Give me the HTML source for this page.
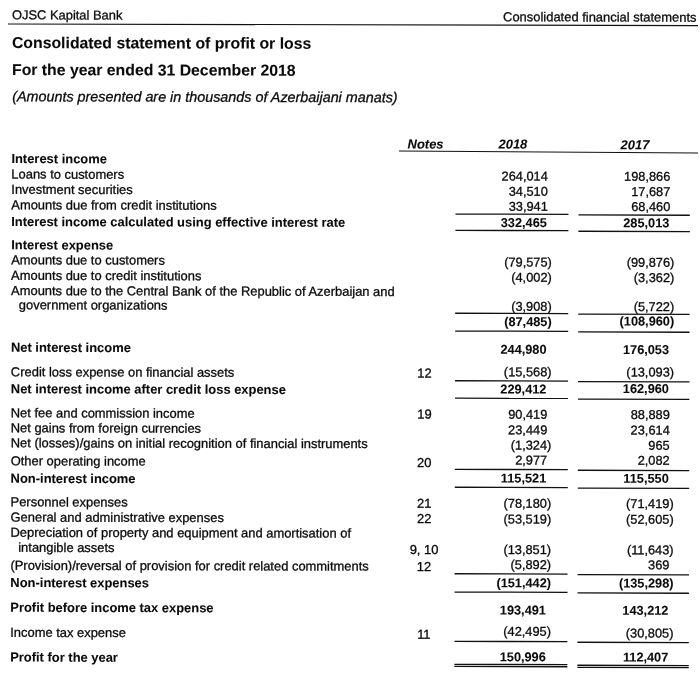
<!DOCTYPE html>
<html><head><meta charset="utf-8"><title>Consolidated statement of profit or loss</title>
<style>
html,body{margin:0;padding:0;background:#fff}
body{width:700px;height:699px;overflow:hidden;position:relative;font-family:"Liberation Sans",Arial,sans-serif;font-size:12.93px;line-height:17px;color:#0a0a0a;-webkit-text-stroke:0.3px #0a0a0a}
#pg{position:absolute;left:0;top:0;width:700px;height:699px;transform-origin:0 0;transform:matrix(1,0.0024,-0.0024,1,0.3840,0)}
#pg div{position:absolute;white-space:nowrap}
.b{font-weight:700;-webkit-text-stroke-width:0.08px}
.i{font-style:italic}
.bi{font-weight:700;font-style:italic;-webkit-text-stroke-width:0.08px}
#rules{position:absolute;left:0;top:0}
</style></head><body><div id="pg">
<div style="left:11.70px;top:6px;font-size:12.9px;transform:translateY(0.25px)">OJSC Kapital Bank</div>
<div style="right:3.80px;top:7px;font-size:12.95px">Consolidated financial statements</div>
<div class="b" style="left:11.70px;top:32px;font-size:15.8px;line-height:21px">Consolidated statement of profit or loss</div>
<div class="b" style="left:11.80px;top:59px;font-size:15.8px;line-height:21px">For the year ended 31 December 2018</div>
<div class="i" style="left:12.10px;top:87px;font-size:14.35px;line-height:19px;transform:translateY(0.25px)">(Amounts presented are in thousands of Azerbaijani manats)</div>
<div class="bi" style="left:407.60px;top:134px;transform:translateY(0.5px)">Notes</div>
<div class="bi" style="left:498.50px;top:134px;transform:translateY(0.25px)">2018</div>
<div class="bi" style="left:620.60px;top:134px;transform:translateY(0.75px)">2017</div>
<div class="b" style="left:11.40px;top:150px">Interest income</div>
<div style="left:11.40px;top:165px;transform:translateY(0.5px)">Loans to customers</div>
<div style="right:152.10px;top:166px;font-size:12.8px;transform:translateY(0.25px)">264,014</div>
<div style="right:29.60px;top:166px;font-size:12.8px;transform:translateY(0.25px)">198,866</div>
<div style="left:11.40px;top:180px;transform:translateY(0.75px)">Investment securities</div>
<div style="right:152.10px;top:181px;font-size:12.8px;transform:translateY(0.5px)">34,510</div>
<div style="right:29.60px;top:181px;font-size:12.8px;transform:translateY(0.5px)">17,687</div>
<div style="left:11.40px;top:196px;transform:translateY(0.25px)">Amounts due from credit institutions</div>
<div style="right:152.10px;top:196px;font-size:12.8px;transform:translateY(0.5px)">33,941</div>
<div style="right:29.60px;top:196px;font-size:12.8px;transform:translateY(0.5px)">68,460</div>
<div class="b" style="left:11.40px;top:213px">Interest income calculated using effective interest rate</div>
<div class="b" style="right:153.00px;top:212px;font-size:12.75px;transform:translateY(0.75px)">332,465</div>
<div class="b" style="right:30.50px;top:212px;font-size:12.75px;transform:translateY(0.75px)">285,013</div>
<div class="b" style="left:11.40px;top:236px;transform:translateY(0.25px)">Interest expense</div>
<div style="left:11.40px;top:251px;transform:translateY(0.25px)">Amounts due to customers</div>
<div style="right:147.94px;top:252px;font-size:12.8px;transform:translateY(0.25px)">(79,575)</div>
<div style="right:25.44px;top:252px;font-size:12.8px;transform:translateY(0.25px)">(99,876)</div>
<div style="left:11.40px;top:266px;transform:translateY(0.75px)">Amounts due to credit institutions</div>
<div style="right:147.94px;top:267px;font-size:12.8px;transform:translateY(0.5px)">(4,002)</div>
<div style="right:25.44px;top:267px;font-size:12.8px;transform:translateY(0.5px)">(3,362)</div>
<div style="left:11.40px;top:282px">Amounts due to the Central Bank of the Republic of Azerbaijan and</div>
<div style="left:19.20px;top:296px;transform:translateY(0.25px)">government organizations</div>
<div style="right:147.94px;top:296px;font-size:12.8px;transform:translateY(0.5px)">(3,908)</div>
<div style="right:25.44px;top:296px;font-size:12.8px;transform:translateY(0.5px)">(5,722)</div>
<div class="b" style="right:147.94px;top:311px;font-size:12.75px;transform:translateY(0.75px)">(87,485)</div>
<div class="b" style="right:25.44px;top:311px;font-size:12.75px">(108,960)</div>
<div class="b" style="left:11.40px;top:338px;transform:translateY(0.75px)">Net interest income</div>
<div class="b" style="right:153.00px;top:339px;font-size:12.75px;transform:translateY(0.5px)">244,980</div>
<div class="b" style="right:30.50px;top:339px;font-size:12.75px;transform:translateY(0.5px)">176,053</div>
<div style="left:11.40px;top:363px;transform:translateY(0.25px)">Credit loss expense on financial assets</div>
<div style="left:385.00px;width:80px;text-align:center;top:363px;transform:translateY(0.5px)">12</div>
<div style="right:147.94px;top:362px;font-size:12.8px">(15,568)</div>
<div style="right:25.44px;top:362px;font-size:12.8px">(13,093)</div>
<div class="b" style="left:11.40px;top:380px;transform:translateY(0.25px)">Net interest income after credit loss expense</div>
<div class="b" style="right:153.00px;top:379px;font-size:12.75px;transform:translateY(0.25px)">229,412</div>
<div class="b" style="right:30.50px;top:378px;font-size:12.75px;transform:translateY(0.5px)">162,960</div>
<div style="left:11.40px;top:404px;transform:translateY(0.25px)">Net fee and commission income</div>
<div style="left:385.00px;width:80px;text-align:center;top:404px;transform:translateY(0.5px)">19</div>
<div style="right:152.10px;top:404px;font-size:12.8px;transform:translateY(0.5px)">90,419</div>
<div style="right:29.60px;top:404px;font-size:12.8px;transform:translateY(0.5px)">88,889</div>
<div style="left:11.40px;top:419px;transform:translateY(0.25px)">Net gains from foreign currencies</div>
<div style="right:152.10px;top:420px;font-size:12.8px">23,449</div>
<div style="right:29.60px;top:420px;font-size:12.8px">23,614</div>
<div style="left:11.40px;top:434px;transform:translateY(0.25px)">Net (losses)/gains on initial recognition of financial instruments</div>
<div style="right:147.94px;top:435px;font-size:12.8px;transform:translateY(0.25px)">(1,324)</div>
<div style="right:29.60px;top:435px;font-size:12.8px;transform:translateY(0.25px)">965</div>
<div style="left:11.40px;top:452px;transform:translateY(0.25px)">Other operating income</div>
<div style="left:385.00px;width:80px;text-align:center;top:453px">20</div>
<div style="right:152.10px;top:450px;font-size:12.8px;transform:translateY(0.25px)">2,977</div>
<div style="right:29.60px;top:450px;font-size:12.8px;transform:translateY(0.25px)">2,082</div>
<div class="b" style="left:11.40px;top:469px;transform:translateY(0.75px)">Non-interest income</div>
<div class="b" style="right:153.00px;top:468px;font-size:12.75px;transform:translateY(0.25px)">115,521</div>
<div class="b" style="right:30.50px;top:468px;font-size:12.75px;transform:translateY(0.25px)">115,550</div>
<div style="left:11.40px;top:493px;transform:translateY(0.25px)">Personnel expenses</div>
<div style="left:385.00px;width:80px;text-align:center;top:493px;transform:translateY(0.75px)">21</div>
<div style="right:147.94px;top:493px;font-size:12.8px;transform:translateY(0.5px)">(78,180)</div>
<div style="right:25.44px;top:493px;font-size:12.8px;transform:translateY(0.5px)">(71,419)</div>
<div style="left:11.40px;top:508px;transform:translateY(0.5px)">General and administrative expenses</div>
<div style="left:385.00px;width:80px;text-align:center;top:509px">22</div>
<div style="right:147.94px;top:509px;font-size:12.8px;transform:translateY(0.25px)">(53,519)</div>
<div style="right:25.44px;top:509px;font-size:12.8px;transform:translateY(0.25px)">(52,605)</div>
<div style="left:11.40px;top:523px;transform:translateY(0.75px)">Depreciation of property and equipment and amortisation of</div>
<div style="left:19.20px;top:538px;transform:translateY(0.75px)">intangible assets</div>
<div style="left:385.00px;width:80px;text-align:center;top:540px">9, 10</div>
<div style="right:147.94px;top:539px;font-size:12.8px;transform:translateY(0.75px)">(13,851)</div>
<div style="right:25.44px;top:539px;font-size:12.8px;transform:translateY(0.75px)">(11,643)</div>
<div style="left:11.40px;top:556px;transform:translateY(0.75px)">(Provision)/reversal of provision for credit related commitments</div>
<div style="left:385.00px;width:80px;text-align:center;top:557px">12</div>
<div style="right:147.94px;top:554px;font-size:12.8px;transform:translateY(0.75px)">(5,892)</div>
<div style="right:29.60px;top:554px;font-size:12.8px;transform:translateY(0.75px)">369</div>
<div class="b" style="left:11.40px;top:574px">Non-interest expenses</div>
<div class="b" style="right:147.94px;top:573px;font-size:12.75px">(151,442)</div>
<div class="b" style="right:25.44px;top:573px;font-size:12.75px">(135,298)</div>
<div class="b" style="left:11.40px;top:598px;transform:translateY(0.75px)">Profit before income tax expense</div>
<div class="b" style="right:153.00px;top:600px;font-size:12.75px;transform:translateY(0.25px)">193,491</div>
<div class="b" style="right:30.50px;top:600px;font-size:12.75px;transform:translateY(0.25px)">143,212</div>
<div style="left:11.40px;top:623px;transform:translateY(0.75px)">Income tax expense</div>
<div style="left:385.00px;width:80px;text-align:center;top:624px;transform:translateY(0.75px)">11</div>
<div style="right:147.94px;top:621px;font-size:12.8px;transform:translateY(0.5px)">(42,495)</div>
<div style="right:25.44px;top:623px;font-size:12.8px">(30,805)</div>
<div class="b" style="left:11.40px;top:648px;transform:translateY(0.5px)">Profit for the year</div>
<div class="b" style="right:153.00px;top:647px;font-size:12.75px">150,996</div>
<div class="b" style="right:30.50px;top:647px;font-size:12.75px">112,407</div>
</div>
<svg id="rules" width="700" height="699" viewBox="0 0 700 699">
<line x1="8.00" y1="24.00" x2="698.00" y2="25.60" stroke="#111" stroke-width="1.1"/>
<line x1="399.00" y1="151.05" x2="698.00" y2="153.00" stroke="#111" stroke-width="1.1"/>
<line x1="455.45" y1="214.06" x2="568.45" y2="214.34" stroke="#111" stroke-width="1.3"/>
<line x1="578.44" y1="214.97" x2="689.84" y2="215.23" stroke="#111" stroke-width="1.3"/>
<line x1="455.41" y1="230.36" x2="568.41" y2="230.64" stroke="#111" stroke-width="1.3"/>
<line x1="578.40" y1="231.27" x2="689.80" y2="231.53" stroke="#111" stroke-width="1.3"/>
<line x1="455.21" y1="313.26" x2="568.21" y2="313.54" stroke="#111" stroke-width="1.3"/>
<line x1="578.21" y1="314.17" x2="689.61" y2="314.43" stroke="#111" stroke-width="1.3"/>
<line x1="455.17" y1="331.06" x2="568.17" y2="331.34" stroke="#111" stroke-width="1.3"/>
<line x1="578.16" y1="331.97" x2="689.56" y2="332.23" stroke="#111" stroke-width="1.3"/>
<line x1="455.05" y1="380.76" x2="568.05" y2="381.04" stroke="#111" stroke-width="1.3"/>
<line x1="578.04" y1="381.67" x2="689.44" y2="381.93" stroke="#111" stroke-width="1.3"/>
<line x1="455.00" y1="398.16" x2="568.00" y2="398.44" stroke="#111" stroke-width="1.3"/>
<line x1="578.00" y1="399.07" x2="689.40" y2="399.33" stroke="#111" stroke-width="1.3"/>
<line x1="454.83" y1="469.36" x2="567.83" y2="469.64" stroke="#111" stroke-width="1.3"/>
<line x1="577.83" y1="470.27" x2="689.23" y2="470.53" stroke="#111" stroke-width="1.3"/>
<line x1="454.79" y1="487.26" x2="567.79" y2="487.54" stroke="#111" stroke-width="1.3"/>
<line x1="577.79" y1="488.17" x2="689.19" y2="488.43" stroke="#111" stroke-width="1.3"/>
<line x1="454.58" y1="573.76" x2="567.58" y2="574.04" stroke="#111" stroke-width="1.3"/>
<line x1="577.58" y1="574.67" x2="688.98" y2="574.93" stroke="#111" stroke-width="1.3"/>
<line x1="454.54" y1="592.06" x2="567.54" y2="592.34" stroke="#111" stroke-width="1.3"/>
<line x1="577.54" y1="592.97" x2="688.94" y2="593.23" stroke="#111" stroke-width="1.3"/>
<line x1="454.42" y1="641.36" x2="567.42" y2="641.64" stroke="#111" stroke-width="1.3"/>
<line x1="577.42" y1="642.27" x2="688.82" y2="642.53" stroke="#111" stroke-width="1.3"/>
<line x1="454.37" y1="664.36" x2="567.37" y2="664.64" stroke="#111" stroke-width="1.3"/>
<line x1="577.36" y1="665.27" x2="688.76" y2="665.53" stroke="#111" stroke-width="1.3"/>
<line x1="454.36" y1="666.46" x2="567.36" y2="666.74" stroke="#111" stroke-width="1.3"/>
<line x1="577.36" y1="667.37" x2="688.76" y2="667.63" stroke="#111" stroke-width="1.3"/>
</svg>
</body></html>
